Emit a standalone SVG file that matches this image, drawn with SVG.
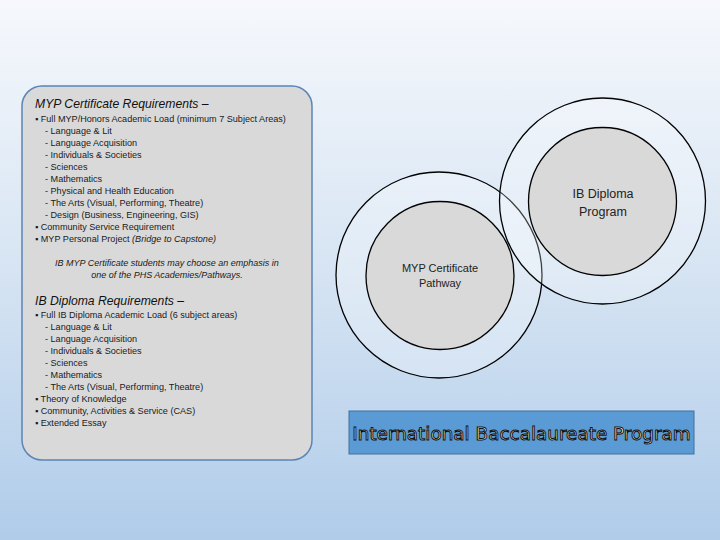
<svg xmlns="http://www.w3.org/2000/svg" width="720" height="540" viewBox="0 0 720 540">
<defs>
<linearGradient id="bg" x1="0" y1="0" x2="0" y2="1">
<stop offset="0" stop-color="#f6f8fc"/>
<stop offset="0.5" stop-color="#d6e4f3"/>
<stop offset="1" stop-color="#b0cce9"/>
</linearGradient>
<style>
.t{font-family:"Liberation Sans",Arial,sans-serif;font-size:9.1px;fill:#1a1a1a}
.h{font-family:"Liberation Sans",Arial,sans-serif;font-size:12.2px;font-style:italic;fill:#111}
.i{font-family:"Liberation Sans",Arial,sans-serif;font-size:9px;font-style:italic;fill:#1a1a1a}
.outer{fill:#ffffff;fill-opacity:0.25;stroke:#000;stroke-width:1.3}
.inner{fill:#d9d9d9;stroke:#000;stroke-width:1.3}
.cl{font-family:"Liberation Sans",Arial,sans-serif;fill:#222;text-anchor:middle}
</style>
</defs>
<rect width="720" height="540" fill="url(#bg)"/>
<g id="requirements">
<rect x="22" y="86" width="290" height="374" rx="20" fill="#d9d9d9" stroke="#5a85b5" stroke-width="1.5"/>
<text class="h" x="35" y="108">MYP Certificate Requirements –</text>
<text class="t" x="35" y="122">▪ Full MYP/Honors Academic Load (minimum 7 Subject Areas)</text>
<text class="t" x="45" y="134">- Language &amp; Lit</text>
<text class="t" x="45" y="146">- Language Acquisition</text>
<text class="t" x="45" y="158">- Individuals &amp; Societies</text>
<text class="t" x="45" y="170">- Sciences</text>
<text class="t" x="45" y="182">- Mathematics</text>
<text class="t" x="45" y="194">- Physical and Health Education</text>
<text class="t" x="45" y="206">- The Arts (Visual, Performing, Theatre)</text>
<text class="t" x="45" y="218">- Design (Business, Engineering, GIS)</text>
<text class="t" x="35" y="230">▪ Community Service Requirement</text>
<text class="t" x="35" y="242">▪ MYP Personal Project <tspan font-style="italic">(Bridge to Capstone)</tspan></text>
<text class="i" x="167" y="266" text-anchor="middle">IB MYP Certificate students may choose an emphasis in</text>
<text class="i" x="167" y="278" text-anchor="middle">one of the PHS Academies/Pathways.</text>
<text class="h" x="35" y="305">IB Diploma Requirements –</text>
<text class="t" x="35" y="318">▪ Full IB Diploma Academic Load (6 subject areas)</text>
<text class="t" x="45" y="330">- Language &amp; Lit</text>
<text class="t" x="45" y="342">- Language Acquisition</text>
<text class="t" x="45" y="354">- Individuals &amp; Societies</text>
<text class="t" x="45" y="366">- Sciences</text>
<text class="t" x="45" y="378">- Mathematics</text>
<text class="t" x="45" y="390">- The Arts (Visual, Performing, Theatre)</text>
<text class="t" x="35" y="402">▪ Theory of Knowledge</text>
<text class="t" x="35" y="414">▪ Community, Activities &amp; Service (CAS)</text>
<text class="t" x="35" y="426">▪ Extended Essay</text>
</g>
<g id="myp">
<circle class="outer" cx="439" cy="275" r="103"/>
<circle class="inner" cx="440" cy="275.5" r="74"/>
<text class="cl" font-size="11" x="440" y="272">MYP Certificate</text>
<text class="cl" font-size="11" x="440" y="287">Pathway</text>
</g>
<g id="diploma">
<circle class="outer" cx="602.5" cy="201" r="103"/>
<circle class="inner" cx="602.5" cy="201.5" r="74"/>
<text class="cl" font-size="12.5" x="603" y="198">IB Diploma</text>
<text class="cl" font-size="12.5" x="603" y="216">Program</text>
</g>
<g id="connectors"></g>
<g id="title">
<rect x="349" y="411" width="345" height="43" fill="#5b9bd5" stroke="#41719c" stroke-width="1"/>
<text x="521.5" y="440" text-anchor="middle" font-family="'DejaVu Sans',Verdana,sans-serif" font-size="18.4" fill="#ffffff" stroke="#111111" stroke-width="1" paint-order="normal">International Baccalaureate Program</text>
</g>
</svg>
